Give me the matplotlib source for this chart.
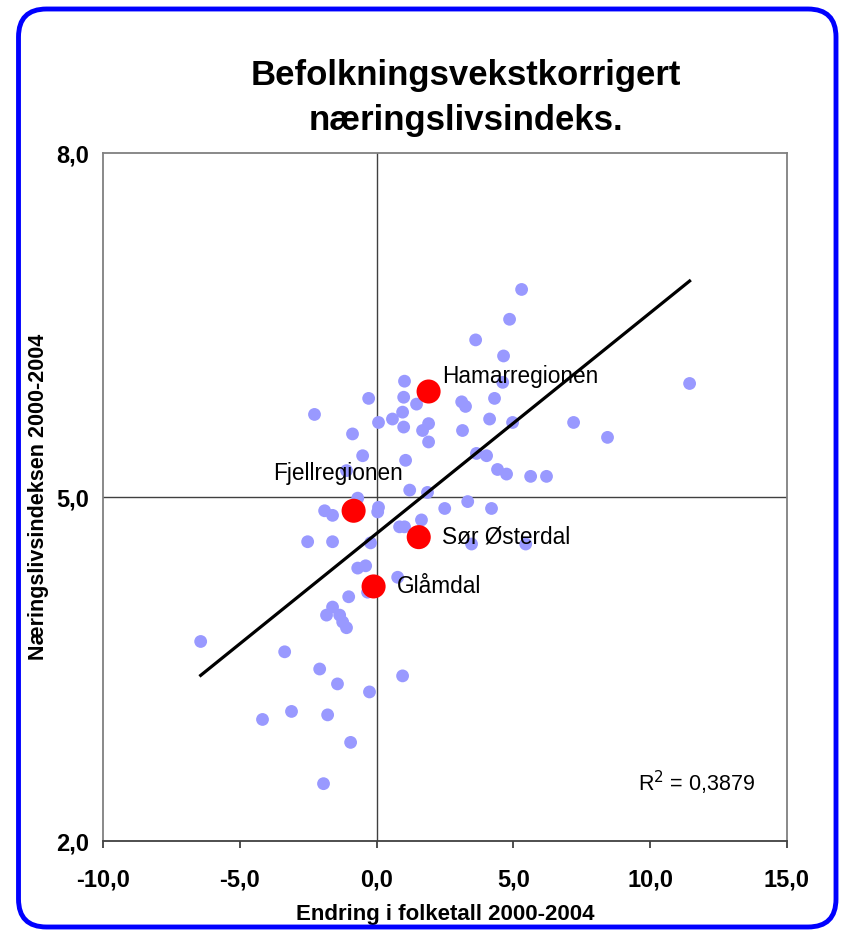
import matplotlib.pyplot as plt
import numpy as np
from matplotlib.patches import FancyBboxPatch

# Data: change in population (x) vs business index (y)
pop_change = [5.30, 4.86, 3.62, 4.64, 1.02, 4.61, 11.44, -0.29, 0.99, 1.46,
              3.11, 3.25, 4.31, -2.27, 0.95, 0.58, 0.07, 4.13, 4.97, 7.20,
              0.99, 1.68, 1.90, 1.90, 3.14, -0.88, 8.44, -0.51, 3.65, 4.02,
              1.06, -1.10, 4.42, 4.75, 5.63, 6.21, -0.69, 1.21, 1.86, 3.33,
              2.49, 4.20, 0.07, 0.04, -1.90, -1.61, 1.64, 0.84, 1.02, 3.47,
              5.45, -2.52, -1.61, -0.22, -0.69, -0.40, 0.77, -0.33, -1.02, -1.61,
              -1.83, -1.35, -1.24, -1.10, -6.43, -3.36, -2.08, -1.43, 0.95, -0.26,
              -4.17, -3.11, -1.79, -0.95, -1.94]
index = [6.81, 6.55, 6.37, 6.23, 6.01, 6.00, 5.99, 5.86, 5.87, 5.81,
         5.83, 5.79, 5.86, 5.72, 5.74, 5.68, 5.65, 5.68, 5.65, 5.65,
         5.61, 5.58, 5.64, 5.48, 5.58, 5.55, 5.52, 5.36, 5.38, 5.36,
         5.32, 5.23, 5.24, 5.20, 5.18, 5.18, 4.99, 5.06, 5.04, 4.96,
         4.90, 4.90, 4.91, 4.87, 4.88, 4.84, 4.80, 4.74, 4.74, 4.59,
         4.59, 4.61, 4.61, 4.60, 4.38, 4.40, 4.30, 4.17, 4.13, 4.04,
         3.97, 3.97, 3.91, 3.86, 3.74, 3.65, 3.50, 3.37, 3.44, 3.30,
         3.06, 3.13, 3.10, 2.86, 2.50]

# Highlighted regions
regions = ['Hamarregionen', 'Fjellregionen', 'Sør Østerdal', 'Glåmdal']
region_x = [1.90, -0.84, 1.54, -0.11]
region_y = [5.92, 4.88, 4.65, 4.22]

xticks = [-10, -5, 0, 5, 10, 15]
yticks = [2, 5, 8]

plt.rcParams['font.family'] = ['Liberation Sans', 'DejaVu Sans']

fig = plt.figure(figsize=(8.41, 9.31), dpi=100)
ax = fig.add_axes([103 / 841, 1 - 841 / 931, 684 / 841, 688 / 931])

# Trend line over all regions
all_x = np.array(pop_change + region_x)
all_y = np.array(index + region_y)
slope, icept = np.polyfit(all_x, all_y, 1)
xx = np.array([all_x.min(), all_x.max()])

ax.axvline(0, color='#404040', lw=1, zorder=1)
ax.axhline(5, color='#404040', lw=1, zorder=1)

ax.scatter(pop_change, index, s=85, color='#9999FF', edgecolors='none', zorder=2)
ax.plot(xx, slope * xx + icept, color='black', lw=2.3, zorder=3)
ax.scatter(region_x, region_y, s=300, color='#FF0000', edgecolors='none', zorder=4)

# Labels next to the red points
ax.annotate(regions[0], (region_x[0], region_y[0]), xytext=(10, 11),
            textcoords='offset points', fontsize=16.3, va='center')
ax.annotate(regions[1], (region_x[1], region_y[1]), xytext=(-11, 27),
            textcoords='offset points', fontsize=16.3, va='center', ha='center')
ax.annotate(regions[2], (region_x[2], region_y[2]), xytext=(17, 0),
            textcoords='offset points', fontsize=16.3, va='center')
ax.annotate(regions[3], (region_x[3], region_y[3]), xytext=(17, 0),
            textcoords='offset points', fontsize=16.3, va='center')

ax.text(0.953, 0.085, 'R$^2$ = 0,3879', transform=ax.transAxes,
        fontsize=15.5, ha='right', va='center')

ax.set_xlim(-10, 15)
ax.set_ylim(2, 8)
ax.set_xticks(xticks)
ax.set_yticks(yticks)
ax.set_xticklabels([f'{v:.1f}'.replace('.', ',') for v in xticks],
                   fontsize=17, fontweight='bold')
ax.set_yticklabels([f'{v:.1f}'.replace('.', ',') for v in yticks],
                   fontsize=17, fontweight='bold')
ax.tick_params(axis='x', length=5, width=1.3, color='#404040', pad=15)
ax.tick_params(axis='y', length=0, pad=10)
for sp in ax.spines.values():
    sp.set_color('#808080')
    sp.set_linewidth(1.3)
ax.spines['bottom'].set_color('#404040')

ax.set_xlabel('Endring i folketall 2000-2004', fontsize=16, fontweight='bold', labelpad=9)
ax.set_ylabel('Næringslivsindeksen 2000-2004', fontsize=15.5, fontweight='bold', labelpad=5)

fig.text(466 / 841, 1 - 98 / 931, 'Befolkningsvekstkorrigert\nnæringslivsindeks.',
         ha='center', va='center', fontsize=25, fontweight='bold', linespacing=1.47)

# Blue rounded frame
frame = FancyBboxPatch((0.185, 0.04), 8.175, 9.18, boxstyle='round,pad=0,rounding_size=0.28',
                       transform=fig.dpi_scale_trans, fill=False, edgecolor='#0000FF', lw=3.5)
fig.patches.append(frame)

fig.savefig('out.png', dpi=100)
